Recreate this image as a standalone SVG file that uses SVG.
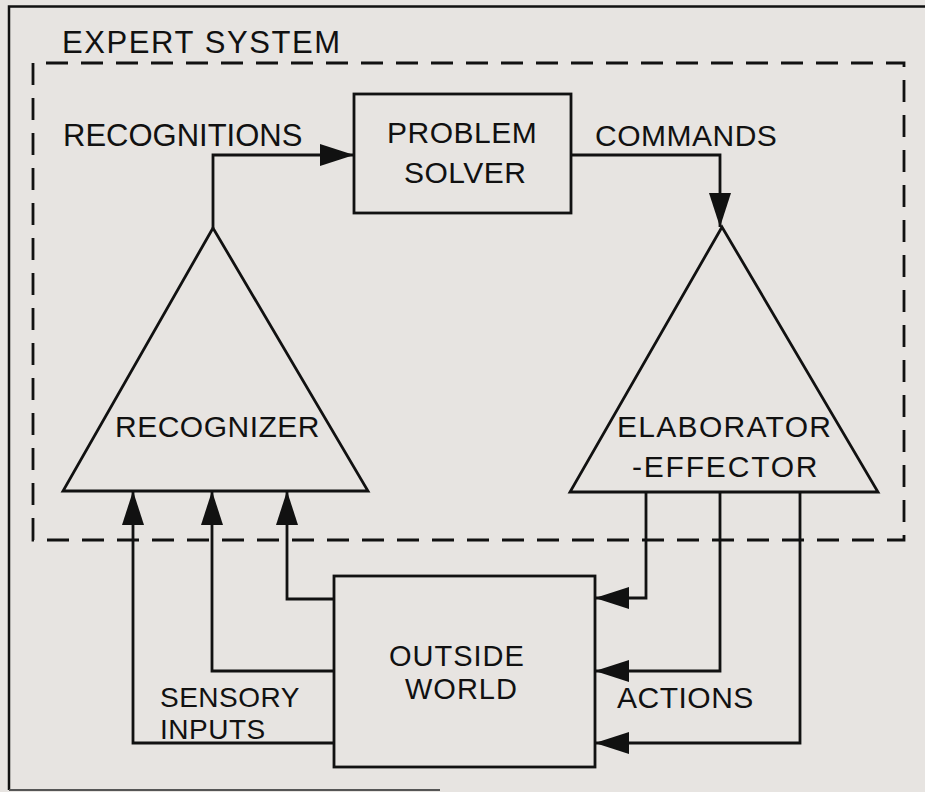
<svg xmlns="http://www.w3.org/2000/svg" width="925" height="792" viewBox="0 0 925 792">
  <defs>
    <marker id="head" viewBox="0 0 34 22" refX="34" refY="11" markerWidth="34" markerHeight="22" markerUnits="userSpaceOnUse" orient="auto">
      <path d="M0,0 L34,11 L0,22 Z" fill="#111"/>
    </marker>
    <style>
      .frame { fill: none; stroke: #111; stroke-width: 2.5; }
      .shape { fill: none; stroke: #111; stroke-width: 2.8; stroke-linejoin: miter; }
      .dash { fill: none; stroke: #111; stroke-width: 2.8; stroke-dasharray: 22 13; }
      .wire { fill: none; stroke: #111; stroke-width: 2.8; }
      .arrow { marker-end: url(#head); }
      text { font-family: "Liberation Sans", Arial, sans-serif; font-size: 30px; fill: #111; letter-spacing: 0.5px; }
    </style>
  </defs>

  <!-- paper -->
  <rect x="0" y="0" width="925" height="792" fill="#e7e4e1"/>

  <!-- outer frame -->
  <path class="frame" d="M925,6.5 H9 V790"/>
  <path d="M9,790 H440" fill="none" stroke="#555" stroke-width="2"/>

  <!-- expert system boundary -->
  <g id="expert-system">
    <path class="dash" d="M33,540 V63 H904 V540 Z"/>
    <text x="62" y="53" style="font-size:31px;letter-spacing:1.6px">EXPERT SYSTEM</text>
  </g>

  <g id="problem-solver">
    <rect class="shape" x="354" y="94" width="217" height="119"/>
    <text><tspan x="387" y="143">PROBLEM</tspan><tspan x="404" y="183">SOLVER</tspan></text>
  </g>

  <g id="recognizer">
    <polygon class="shape" points="213,228 63,491 368,491"/>
    <text x="115" y="437">RECOGNIZER</text>
  </g>

  <g id="elaborator-effector">
    <polygon class="shape" points="722,227 570,492 878,492"/>
    <text style="letter-spacing:1.3px"><tspan x="617" y="437">ELABORATOR</tspan><tspan x="632" y="477" style="letter-spacing:1.8px">-EFFECTOR</tspan></text>
  </g>

  <g id="outside-world">
    <rect class="shape" x="334" y="576" width="261" height="191"/>
    <text style="font-size:29px;letter-spacing:1px"><tspan x="389" y="666">OUTSIDE</tspan><tspan x="405" y="699">WORLD</tspan></text>
  </g>

  <g id="connectors">
    <!-- recognitions -->
    <path class="wire arrow" d="M213,228 V155 H354"/>
    <!-- commands -->
    <path class="wire arrow" d="M571,155 H720 V227"/>
    <!-- sensory inputs -->
    <path class="wire arrow" d="M334,743 H133 V491"/>
    <path class="wire arrow" d="M334,671 H212 V491"/>
    <path class="wire arrow" d="M334,599 H287 V491"/>
    <!-- actions -->
    <path class="wire arrow" d="M646,492 V598 H595"/>
    <path class="wire arrow" d="M720,492 V671 H595"/>
    <path class="wire arrow" d="M800,492 V743 H595"/>
  </g>

  <!-- connector labels -->
  <text x="63" y="146" style="font-size:31px;letter-spacing:0px">RECOGNITIONS</text>
  <text x="595" y="146">COMMANDS</text>
  <text style="font-size:28px"><tspan x="160" y="707">SENSORY</tspan><tspan x="160" y="739">INPUTS</tspan></text>
  <text x="617" y="708">ACTIONS</text>
</svg>
